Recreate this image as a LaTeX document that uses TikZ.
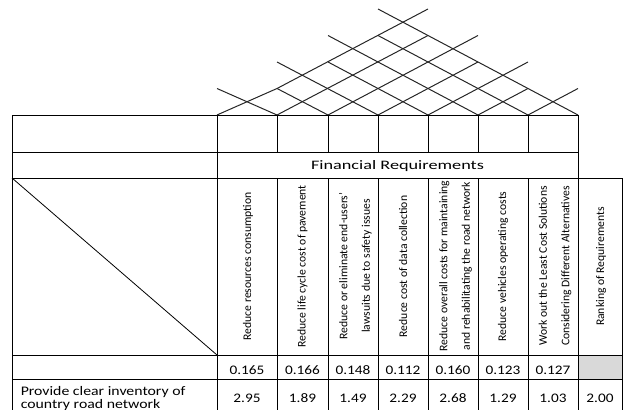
\documentclass[tikz,border=0pt]{standalone}
\usepackage{fontspec}
\setmainfont{Carlito}
\usepackage{graphicx}
\usepackage{xcolor}
\usetikzlibrary{positioning}

\definecolor{cellgray}{HTML}{D9D9D9}
\newcommand{\wide}[2]{\scalebox{#1}[1]{#2}}
\newcommand{\labfont}{\fontsize{8.75pt}{16.9pt}\selectfont}
\newcommand{\numfont}{\fontsize{9.8pt}{12pt}\selectfont}

\begin{document}
\begin{tikzpicture}[x=0.75pt, y=-0.75pt,
    tline/.style={black, line width=0.75pt},
    roof/.style={black!85, line width=0.75pt},
    lab/.style={rotate=90, align=center, inner sep=0pt, font=\labfont},
    num/.style={anchor=base, inner sep=0pt, font=\numfont}]

\useasboundingbox (0,0) rectangle (624,410);

% roof
{
\draw[roof] (217,115)--(277,88.5)--(428,9);
\draw[roof] (277,115)--(428,35.5);
\draw[roof] (328,115)--(478,35.5);
\draw[roof] (378,115)--(478,62);
\draw[roof] (428,115)--(528,62);
\draw[roof] (478,115)--(528,88.5);
\draw[roof] (528,115)--(578,88.5);

\draw[roof] (277,115)--(217,88.5);
\draw[roof] (328,115)--(277,88.5);
\draw[roof] (378,115)--(277,62);
\draw[roof] (428,115)--(328,62);
\draw[roof] (478,115)--(328,35.5);
\draw[roof] (528,115)--(378,35.5);
\draw[roof] (578,115)--(378,9);
}

% table lines
{
\fill[cellgray] (578,355) rectangle (622,379);

\draw[tline] (12,115)--++(566,0);
\draw[tline] (12,152)--++(566,0);
\draw[tline] (12,178)--++(610,0);
\draw[tline] (12,355)--++(610,0);
\draw[tline] (12,379)--++(610,0);

\draw[tline] (12,115)--(12,410);
\draw[tline] (217,115)--(217,410);
\draw[tline] (578,115)--(578,410);
\draw[tline] (622,178)--(622,410);

\draw[tline] (277,115)--(277,152);
\draw[tline] (328,115)--(328,152);
\draw[tline] (378,115)--(378,152);
\draw[tline] (428,115)--(428,152);
\draw[tline] (478,115)--(478,152);
\draw[tline] (528,115)--(528,152);

\draw[tline] (277,178)--(277,410);
\draw[tline] (328,178)--(328,410);
\draw[tline] (378,178)--(378,410);
\draw[tline] (428,178)--(428,410);
\draw[tline] (478,178)--(478,410);
\draw[tline] (528,178)--(528,410);

\draw[black, line width=0.6pt] (12,178)--(217,355);
}

% nodes
{
\node[anchor=base, inner sep=0pt, font=\fontsize{9.7pt}{12pt}\selectfont] (fin) at (397.5,169.3) {\wide{1.41}{Financial Requirements}};

\node[lab] (r1) at (248,266.5) {Reduce resources consumption};
\node[lab] (r2) at (302.5,266.5) {Reduce life cycle cost of pavement};
\node[lab] (r3) at (355.5,266) {Reduce or eliminate end-users’\\lawsuits due to safety issues};
\node[lab] (r4) at (403,266.5) {Reduce cost of data collection};
\node[lab] (r5) at (455.5,266) {Reduce overall costs for maintaining\\and rehabilitating the road network};
\node[lab] (r6) at (503,266.5) {Reduce vehicles operating costs};
\node[lab] (r7) at (555,266) {Work out the Least Cost Solutions\\Considering Different Alternatives};
\node[lab] (rank) at (601,266.5) {Ranking of Requirements};

\node[num] (w1) at (247,374.3) {\wide{1.17}{0.165}};
\node[num] (w2) at (302.5,374.3) {\wide{1.17}{0.166}};
\node[num] (w3) at (353,374.3) {\wide{1.17}{0.148}};
\node[num] (w4) at (403,374.3) {\wide{1.17}{0.112}};
\node[num] (w5) at (453,374.3) {\wide{1.17}{0.160}};
\node[num] (w6) at (503,374.3) {\wide{1.17}{0.123}};
\node[num] (w7) at (553,374.3) {\wide{1.17}{0.127}};

\node[anchor=base west, inner sep=0pt, font=\numfont] (req) at (20.5,395.5) {\wide{1.21}{Provide clear inventory of}};
\node[anchor=base west, inner sep=0pt, font=\numfont] (req2) at (20.5,408.5) {\wide{1.21}{country road network}};

\node[num] (v1) at (247,402.7) {\wide{1.17}{2.95}};
\node[num] (v2) at (302.5,402.7) {\wide{1.17}{1.89}};
\node[num] (v3) at (353,402.7) {\wide{1.17}{1.49}};
\node[num] (v4) at (403,402.7) {\wide{1.17}{2.29}};
\node[num] (v5) at (453,402.7) {\wide{1.17}{2.68}};
\node[num] (v6) at (503,402.7) {\wide{1.17}{1.29}};
\node[num] (v7) at (553,402.7) {\wide{1.17}{1.03}};
\node[num] (vrank) at (600,402.7) {\wide{1.17}{2.00}};
}

\end{tikzpicture}
\end{document}
